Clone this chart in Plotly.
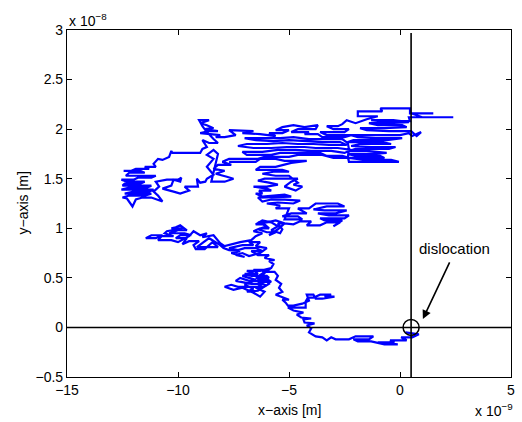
import plotly.graph_objects as go

# Random-walk path (x in units of 1e-9 m, y in units of 1e-8 m)
tail = [(0.25,-0.05),(0.85,-0.07),(0.55,-0.10),(0.05,-0.10),(0.3,-0.13),(-0.45,-0.13),(-0.25,-0.15),
        (-1.0,-0.15),(-0.1,-0.17),(-0.7,-0.17),(-1.3,-0.14),(-1.9,-0.14),(-2.1,-0.12),(-1.4,-0.12),
        (-1.2,-0.09),(-2.0,-0.09),(-2.3,-0.12),(-2.9,-0.12),(-3.1,-0.10),(-3.3,-0.13),(-3.5,-0.10),
        (-3.8,-0.09),(-4.1,-0.05),(-4.0,-0.01),(-4.2,0.02)]
chain = [(-3.85,0.04),(-4.3,0.05),(-4.35,0.08),(-4.0,0.09),(-4.45,0.10),(-4.65,0.13),(-4.35,0.15),
         (-4.8,0.17),(-5.05,0.20),(-4.75,0.20),(-4.25,0.20),(-4.25,0.26),(-4.15,0.30),(-3.9,0.30),
         (-3.6,0.33),(-3.1,0.33),(-3.4,0.31),(-2.95,0.31),(-3.5,0.29),(-3.8,0.29),(-3.9,0.33),
         (-4.2,0.33),(-4.1,0.27),(-4.4,0.24),(-4.8,0.22),(-5.05,0.22),(-5.15,0.25),(-5.3,0.28),
         (-5.0,0.28),(-5.35,0.31),(-5.6,0.33),(-5.3,0.36),(-5.45,0.40),(-5.35,0.44),(-5.6,0.48),
         (-5.5,0.52),(-5.65,0.56)]
cluster_a = [(-6.2,0.56),(-6.0,0.58),(-6.6,0.58),(-6.4,0.54),(-7.0,0.54),(-6.7,0.52),(-6.0,0.52),
             (-5.9,0.50),(-6.5,0.50),(-6.1,0.47),(-6.8,0.47),(-7.2,0.50),(-7.4,0.47),(-7.0,0.45),
             (-6.7,0.44),(-6.2,0.44),(-6.4,0.41),(-7.3,0.41),(-7.6,0.43),(-7.9,0.41),(-7.5,0.38),
             (-7.1,0.40),(-6.9,0.38),(-6.6,0.35),(-6.3,0.31),(-6.1,0.36),(-6.5,0.40),(-6.0,0.42),
             (-6.4,0.46),(-5.8,0.46),(-6.0,0.49),(-6.3,0.50),(-6.1,0.55),(-5.8,0.60),
             (-6.3,0.57),(-6.9,0.57),(-6.6,0.55),(-7.1,0.52),(-6.5,0.48),(-7.0,0.43),(-6.6,0.39),
             (-6.9,0.36),(-6.4,0.37),(-6.2,0.40),(-5.9,0.44),(-6.3,0.53),(-5.8,0.60)]
cluster_c = [(-5.7,0.64),(-5.9,0.67),(-5.65,0.68),(-6.1,0.70),(-5.9,0.73),(-6.4,0.73),(-6.7,0.77),
             (-6.2,0.77),(-6.5,0.80),(-7.0,0.80),(-7.3,0.78),(-7.7,0.80),(-7.1,0.83),(-6.6,0.83),
             (-6.8,0.86),(-6.3,0.86),(-6.5,0.82),(-6.0,0.80),(-6.3,0.75),(-6.8,0.72),(-7.1,0.75),
             (-7.4,0.73),(-7.0,0.71),(-7.6,0.75),(-7.2,0.77),(-7.7,0.78)]
cluster_d = [(-7.95,0.80),(-8.1,0.83),(-8.6,0.90),(-9.15,0.81),(-8.2,0.81),(-8.45,0.86),(-8.8,0.79),
             (-9.2,0.79),(-9.3,0.83),(-9.05,0.87),(-9.5,0.87),(-9.8,0.84),(-9.6,0.90),(-10.1,0.90),
             (-9.9,0.93),(-9.4,0.93),(-9.7,0.95),(-10.4,0.95),(-10.0,0.98),(-9.6,0.98),(-9.9,1.03),
             (-10.1,1.01),(-10.3,1.00),(-9.8,1.00),(-10.5,0.97),(-10.6,0.95),(-10.2,0.92),
             (-10.8,0.92),(-11.0,0.90),(-11.45,0.90),(-11.2,0.93),(-10.7,0.93),(-10.9,0.88),
             (-10.3,0.88),(-10.0,0.86),(-9.5,0.92),(-9.3,0.97),(-9.0,0.93),(-8.7,0.95),
             (-8.9,0.91),(-8.4,0.93),(-8.1,0.85),(-7.9,0.82),(-7.6,0.84),(-7.2,0.86)]
rise = [(-6.7,0.88),(-6.5,0.92),(-6.2,0.95),(-6.6,0.97),(-6.3,1.00),(-5.9,1.00),(-6.1,1.04),
        (-6.5,1.04),(-6.2,1.08),(-5.8,1.06),(-5.5,1.02),(-5.8,0.98),(-5.4,0.95),(-5.3,0.99),
        (-5.5,1.05),(-5.2,1.05),(-5.6,1.08),(-6.0,1.06),(-6.4,1.06),(-6.0,1.02),(-6.4,0.99),
        (-6.0,0.96),(-5.6,0.96),(-5.9,0.93),(-5.5,0.99),(-5.2,1.05),(-4.8,1.04),(-4.5,1.07),
        (-4.0,1.07),(-4.2,1.03),(-3.6,1.03),(-3.3,1.06),(-2.7,1.06),(-3.0,1.02)]
cluster_h = [(-2.6,1.08),(-3.4,1.08),(-3.6,1.10),(-2.5,1.10),(-2.3,1.13),(-3.2,1.13),(-3.7,1.15),
             (-2.9,1.15),(-2.4,1.18),(-3.4,1.18),(-3.9,1.19),(-3.3,1.22),(-2.5,1.22),(-2.8,1.25),
             (-3.8,1.25),(-4.1,1.20),(-4.6,1.20),(-4.2,1.15),(-4.9,1.15),(-5.3,1.12),(-4.6,1.12),
             (-4.4,1.09),(-5.2,1.09),(-5.0,1.20),(-5.6,1.20),(-5.4,1.23),(-6.0,1.25),(-5.5,1.26),
             (-4.8,1.25),(-4.5,1.28),(-5.2,1.29),(-5.8,1.29),(-6.2,1.27),(-6.4,1.31),(-5.5,1.32),
             (-4.9,1.32),(-5.2,1.34),(-6.2,1.32)]
lower_mid = [(-6.5,1.35),(-6.2,1.35),(-6.35,1.38),(-5.8,1.38),(-6.0,1.40),(-6.6,1.42),(-6.0,1.42),
             (-5.5,1.44),(-5.9,1.46),(-6.4,1.48),(-6.1,1.50),(-5.3,1.50),(-4.6,1.50),(-4.9,1.47),
             (-5.2,1.42),(-4.7,1.38),(-4.4,1.42),(-4.8,1.44),(-4.6,1.46),(-5.0,1.53),(-5.6,1.53),
             (-6.2,1.55),(-5.7,1.57),(-5.0,1.57),(-5.3,1.59),(-6.5,1.59),(-6.3,1.62),(-5.6,1.62),
             (-5.2,1.64),(-4.9,1.66)]
mid_band = [(-4.2,1.68),(-5.2,1.68),(-5.6,1.70),(-6.4,1.70),(-6.1,1.72),(-5.0,1.72),(-4.6,1.74),
            (-3.5,1.74),(-3.0,1.71),(-2.3,1.71),(-2.6,1.73),(-3.3,1.73),(-3.6,1.76),(-4.5,1.76),
            (-5.4,1.76),(-5.8,1.74),(-6.9,1.74),(-7.1,1.77),(-6.2,1.77),(-5.5,1.79),(-4.7,1.79),
            (-4.0,1.78),(-3.1,1.78),(-2.5,1.76),(-2.2,1.79),(-2.8,1.81),(-3.8,1.81),(-4.3,1.82),
            (-5.1,1.82),(-5.8,1.81),(-6.6,1.81),(-7.3,1.83),(-6.9,1.85),(-6.0,1.85),(-5.3,1.86),
            (-4.6,1.85),(-3.9,1.85),(-3.2,1.84),(-2.4,1.84),(-2.7,1.87),(-3.5,1.87),(-4.2,1.88),
            (-5.0,1.89),(-5.7,1.88),(-6.5,1.89),(-7.0,1.91),(-6.2,1.91),(-5.4,1.91),(-4.8,1.92),
            (-4.1,1.90),(-3.3,1.90),(-2.6,1.90),(-2.35,1.86),(-2.3,1.80),(-2.35,1.72)]
right_cluster = [(-2.3,1.67),(-0.05,1.67),(-0.4,1.69),(-1.6,1.69),(-2.3,1.71),(-0.7,1.71),
                 (-0.9,1.73),(-2.0,1.73),(-2.35,1.75),(-1.2,1.75),(-0.6,1.76),(-1.5,1.78),
                 (-2.3,1.78),(-2.0,1.80),(-0.5,1.80),(-0.2,1.82),(-1.3,1.82),(-2.2,1.83),
                 (-1.8,1.85),(-0.4,1.85),(-0.8,1.87),(-2.35,1.87),(-2.1,1.89),(-0.6,1.89),
                 (0.1,1.91),(-1.1,1.91),(-1.9,1.92),(-2.2,1.94),(-0.9,1.94),(0.0,1.94),
                 (0.4,1.96),(0.55,1.93),(0.95,1.97),(0.75,1.93),(0.5,1.98),(-0.5,1.98),
                 (-1.5,1.99),(-1.8,2.01),(-0.7,2.01),(0.3,2.02),(0.1,2.04),(-1.0,2.04),
                 (-1.4,2.06),(-0.5,2.06),(0.4,2.07),(-0.3,2.09),(-1.3,2.09),(-0.9,2.08),
                 (0.45,2.08),(0.4,2.12),(2.4,2.12),(1.0,2.12),(0.5,2.16),(1.5,2.16),(0.45,2.16),
                 (0.45,2.21),(-0.88,2.21),(-0.8,2.18),(-1.9,2.18),(-1.9,2.13),(-1.0,2.13),
                 (-1.5,2.10)]
top_band = [(-2.0,2.06),(-2.4,2.09),(-2.6,2.05),(-2.8,2.03),(-3.3,2.03),(-3.0,2.00),(-2.3,2.00),
            (-2.5,1.97),(-3.6,1.97),(-3.3,1.94),(-2.2,1.94),(-2.5,1.92),(-3.5,1.92),(-3.7,1.95),
            (-4.3,1.95),(-4.1,1.97),(-4.9,1.97),(-4.6,2.00),(-3.8,2.00),(-3.7,2.04),(-4.3,2.02),
            (-4.8,2.04),(-5.3,2.02),(-5.6,1.99),(-5.0,1.99),(-5.3,1.96),(-5.9,1.96),(-5.6,1.93),
            (-6.3,1.95),(-7.1,1.96),(-6.6,1.98),(-7.7,1.99),(-7.4,1.94),(-7.9,1.92)]
cluster_f = [(-8.3,1.92),(-8.1,1.94),(-8.5,1.95),(-9.0,1.96),(-8.6,1.98),(-8.2,1.98),(-8.8,2.00),
             (-8.4,2.01),(-8.7,2.04),(-9.0,2.06),(-8.6,2.09),(-9.05,2.09),(-8.9,2.03),(-8.7,1.97),
             (-8.4,1.90),(-8.2,1.86),(-8.6,1.86),(-8.9,1.89),(-8.7,1.82),(-8.9,1.80),(-9.0,1.76)]
cluster_e = [(-10.25,1.76),(-10.3,1.78),(-10.4,1.72),(-10.7,1.69),(-10.9,1.70),(-11.1,1.65),
             (-11.0,1.62),(-11.5,1.62),(-11.3,1.60),(-11.9,1.60),(-12.1,1.58),(-12.45,1.58),
             (-11.7,1.58),(-11.5,1.56),(-12.2,1.56),(-12.35,1.53),(-11.6,1.53),(-11.0,1.53),
             (-11.2,1.51),(-11.8,1.51),(-12.0,1.49),(-12.55,1.49),(-12.3,1.47),(-11.5,1.47),
             (-11.7,1.45),(-12.4,1.45),(-12.5,1.43),(-11.9,1.43),(-11.2,1.43),(-11.4,1.41),
             (-12.2,1.41),(-12.55,1.39),(-11.8,1.39),(-11.1,1.39),(-11.3,1.37),(-12.0,1.37),
             (-12.4,1.35),(-11.6,1.35),(-11.2,1.35),(-11.5,1.33),(-12.2,1.33),(-12.5,1.31),
             (-12.3,1.30),(-12.05,1.22),(-11.9,1.29),(-11.6,1.31),(-11.2,1.31),(-10.7,1.27),
             (-10.9,1.33),(-11.1,1.37),(-10.85,1.42),(-11.0,1.47),(-10.5,1.49),(-10.0,1.49),
             (-9.85,1.51),(-9.9,1.47),(-10.2,1.49),(-10.3,1.43),(-10.7,1.40),(-10.2,1.37),
             (-9.9,1.35),(-9.5,1.38),(-9.7,1.42),(-9.1,1.42),(-9.15,1.50),(-9.0,1.46),(-8.77,1.47)]
cluster_g = [(-8.7,1.50),(-8.4,1.54),(-8.7,1.62),(-8.4,1.70),(-8.7,1.74),(-8.4,1.79),(-8.2,1.75),
             (-8.5,1.47),(-7.9,1.47),(-7.5,1.50),(-7.8,1.52),(-8.3,1.55),(-7.9,1.58),(-8.4,1.60),
             (-8.2,1.64),(-7.6,1.64),(-8.0,1.67),(-7.7,1.70),(-6.3,1.70),(-6.5,1.67),(-7.7,1.67)]

segments = [tail, chain, cluster_a, cluster_c, cluster_d, rise, cluster_h, lower_mid,
            mid_band, right_cluster, top_band, cluster_f, cluster_e, cluster_g]
walk = [p for seg in segments for p in seg]
walk_x = [p[0] for p in walk]
walk_y = [p[1] for p in walk]

dislocation_x = 0.5
dislocation_y = 0.0
x_range = [-15, 5]
y_range = [-0.5, 3]

FONT = "Liberation Sans, Arial, Helvetica, sans-serif"

fig = go.Figure()
fig.add_trace(go.Scatter(x=walk_x, y=walk_y, mode="lines",
                         line=dict(color="#0000ff", width=2.2), hoverinfo="skip"))
# reference lines through the dislocation
fig.add_trace(go.Scatter(x=x_range, y=[dislocation_y, dislocation_y], mode="lines",
                         line=dict(color="black", width=1.6), hoverinfo="skip"))
fig.add_trace(go.Scatter(x=[dislocation_x, dislocation_x], y=[y_range[0], 2.97], mode="lines",
                         line=dict(color="black", width=1.6), hoverinfo="skip"))
fig.add_trace(go.Scatter(x=[dislocation_x], y=[dislocation_y], mode="markers",
                         marker=dict(symbol="circle-open", size=16, color="black",
                                     line=dict(width=1.5, color="black")), hoverinfo="skip"))

axis_common = dict(showline=True, linecolor="black", linewidth=1.2, mirror="ticks",
                   ticks="inside", ticklen=5, tickcolor="black", tickwidth=1,
                   showgrid=False, zeroline=False,
                   tickfont=dict(family=FONT, size=14, color="black"))
fig.update_xaxes(range=x_range, tick0=-15, dtick=5, **axis_common)
fig.update_yaxes(range=y_range, tick0=-0.5, dtick=0.5, **axis_common)

fig.add_annotation(x=1.03, y=0.085, ax=2.37, ay=0.72, xref="x", yref="y", axref="x", ayref="y",
                   text=" ", showarrow=True, arrowhead=2, arrowsize=1.1, arrowwidth=1.6,
                   arrowcolor="black")
fig.add_annotation(x=2.45, y=0.80, xref="x", yref="y", text="dislocation", showarrow=False,
                   font=dict(family=FONT, size=15, color="black"))
fig.add_annotation(x=0.5, y=0, xref="paper", yref="paper", yshift=-33, text="x\u2212axis [m]",
                   showarrow=False, xanchor="center", yanchor="middle",
                   font=dict(family=FONT, size=14, color="black"))
fig.add_annotation(x=0, y=0.5, xref="paper", yref="paper", xshift=-45, text="y\u2212axis [m]",
                   textangle=-90, showarrow=False, xanchor="center", yanchor="middle",
                   font=dict(family=FONT, size=14, color="black"))
fig.add_annotation(x=0, y=1, xref="paper", yref="paper", xanchor="left", yanchor="bottom",
                   yshift=-1, text="x 10<sup>\u22128</sup>", showarrow=False,
                   font=dict(family=FONT, size=14, color="black"))
fig.add_annotation(x=1, y=0, xref="paper", yref="paper", xanchor="right", yanchor="top",
                   xshift=4, yshift=-22, text="x 10<sup>\u22129</sup>", showarrow=False,
                   font=dict(family=FONT, size=14, color="black"))

fig.update_layout(width=522, height=422, autosize=False, showlegend=False,
                  margin=dict(l=67, r=7, t=30, b=45),
                  paper_bgcolor="white", plot_bgcolor="white")
fig.write_html("out.html", config={"displayModeBar": False},
               post_script="document.body.style.margin='0';document.body.style.overflow='hidden';")
